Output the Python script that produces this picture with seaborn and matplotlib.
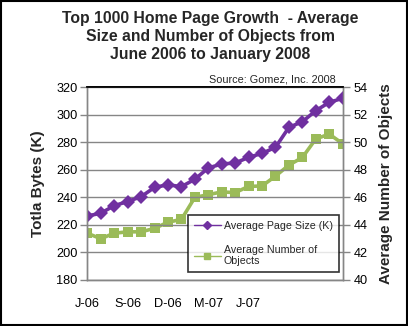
import matplotlib
matplotlib.use("Agg")
import matplotlib.pyplot as plt
from matplotlib.lines import Line2D
from matplotlib.patches import Rectangle
import seaborn as sns
import pandas as pd

sns.set_style("white")
plt.rcParams["font.family"] = ["Liberation Sans", "DejaVu Sans"]

# Monthly samples, June 2006 through January 2008
months = ["Jun-06", "Jul-06", "Aug-06", "Sep-06", "Oct-06", "Nov-06", "Dec-06",
          "Jan-07", "Feb-07", "Mar-07", "Apr-07", "May-07", "Jun-07", "Jul-07",
          "Aug-07", "Sep-07", "Oct-07", "Nov-07", "Dec-07", "Jan-08"]
page_size_k = [226.5, 228.5, 234, 237, 240.5, 247.3, 249.2, 247.8, 253.2, 261.4,
               264.3, 265.0, 269.1, 272.0, 276.4, 290.9, 295.0, 303.0, 309.1, 312.0]
num_objects = [43.4, 43.0, 43.4, 43.5, 43.5, 43.75, 44.2, 44.4, 46.0, 46.2,
               46.4, 46.35, 46.8, 46.83, 47.55, 48.35, 48.9, 50.25, 50.6, 49.9]
tick_labels = {0: "J-06", 3: "S-06", 6: "D-06", 9: "M-07", 12: "J-07"}

purple = "#7030A0"
green = "#9BBB59"
grid_gray = "#868686"

df = pd.DataFrame({"idx": range(len(months)), "month": months,
                   "size": page_size_k, "objects": num_objects})

fig = plt.figure(figsize=(4.08, 3.26), dpi=100)
ax = fig.add_axes([87.3 / 408, 1 - 280 / 326, (342.7 - 87.3) / 408, (280 - 87.3) / 326])
ax2 = ax.twinx()

sns.lineplot(data=df, x="idx", y="size", ax=ax, color=purple, marker="D",
             markersize=7, markeredgewidth=0, linewidth=2.6, legend=False)
sns.lineplot(data=df, x="idx", y="objects", ax=ax2, color=green, marker="s",
             markersize=7, markeredgewidth=0, linewidth=2.6, legend=False)

ax.set_xlim(0, len(months) - 1)
ax.set_ylim(180, 320)
ax.set_yticks(range(180, 321, 20))
ax2.set_ylim(40, 54)
ax2.set_yticks(range(40, 55, 2))

ax.set_xticks(range(len(months)))
ax.set_xticklabels([tick_labels.get(i, "") for i in range(len(months))])

ax.grid(axis="y", color=grid_gray, linewidth=1.0)
ax.set_axisbelow(True)

for a in (ax, ax2):
    for side in ("left", "right", "bottom"):
        a.spines[side].set_color(grid_gray)
        a.spines[side].set_linewidth(1.0)
    a.spines["top"].set_color("black")
    a.spines["top"].set_linewidth(1.2)
    a.tick_params(colors="black", labelsize=9.2, length=5, width=1.0, direction="out")
    a.tick_params(axis="both", color=grid_gray)

ax.tick_params(axis="x", pad=8)
ax.tick_params(axis="y", pad=2)
ax2.tick_params(axis="y", pad=3)

ax.set_xlabel("")
ax.set_ylabel("Totla Bytes (K)", fontsize=11, fontweight="bold", labelpad=8)
ax2.set_ylabel("Average Number of Objects", fontsize=11, fontweight="bold", labelpad=8)

fig.text(0.515, 1 - 37 / 326,
         "Top 1000 Home Page Growth  - Average\nSize and Number of Objects from\nJune 2006 to January 2008",
         ha="center", va="center", fontsize=11.3, fontweight="bold", linespacing=1.25)
fig.text(336 / 408, 1 - 80 / 326, "Source: Gomez, Inc. 2008", ha="right",
         va="center", fontsize=7.8)

handles = [
    Line2D([], [], color=purple, marker="D", markersize=4, linewidth=1.0),
    Line2D([], [], color=green, marker="s", markersize=4.5, linewidth=1.0),
]
leg = ax.legend(handles, ["Average Page Size (K)", "Average Number of\nObjects"],
                loc="upper left", bbox_to_anchor=((188 - 87.3) / 255.4, (280 - 215) / 192.7),
                frameon=True, fancybox=False, fontsize=7.7, handlelength=2.5,
                handletextpad=0.3, labelspacing=1.3, borderpad=0.55,
                borderaxespad=0)
leg.get_frame().set_edgecolor("black")
leg.get_frame().set_linewidth(1.2)
leg.set_zorder(10)
ax.set_zorder(ax2.get_zorder() + 1)
ax.patch.set_visible(False)

fig.patches.append(Rectangle((0.002, 0.003), 0.996, 0.994, transform=fig.transFigure,
                             fill=False, edgecolor="black", linewidth=1.5))

fig.savefig("out.png", dpi=100)
